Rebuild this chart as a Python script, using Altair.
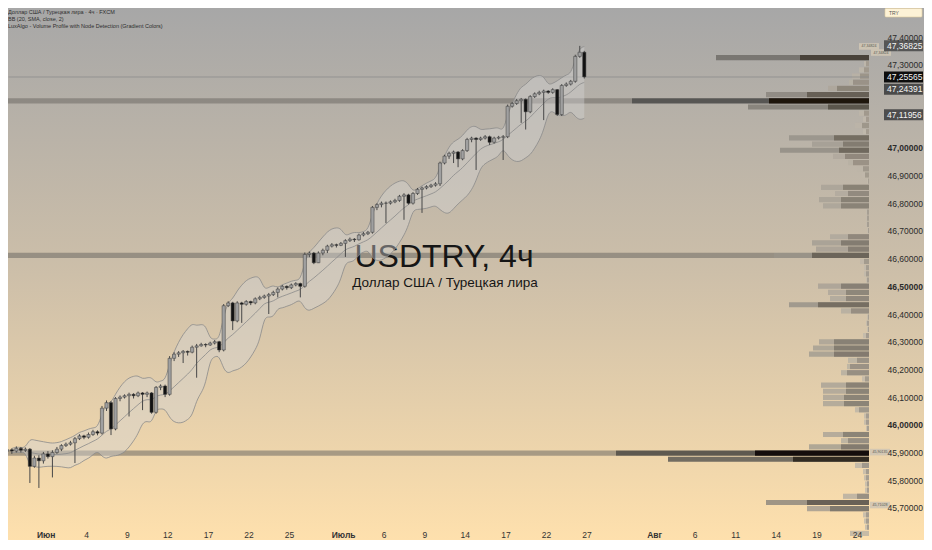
"""USDTRY 4h chart with Bollinger bands and a volume profile, TradingView style."""
import json
import numpy as np
import pandas as pd
import altair as alt

FONT = "Liberation Sans"
W, H = 861, 514
RIGHT = 55  # room for the price scale

# candles: three per trading day, from 27 May (day 0) to 24 Jul (day 42)
first_open = 45.905
closes = [
    45.910, 45.905, 45.915,  45.908, 45.912, 45.850,  45.880, 45.870, 45.895,
    45.885, 45.900, 45.912,  45.925, 45.930, 45.935,  45.950, 45.960, 45.955,
    45.965, 45.975, 45.970,  46.060, 46.080, 45.985,  46.095, 46.100, 46.105,
    46.110, 46.105, 46.115,  46.110, 46.115, 46.045,  46.135, 46.140, 46.110,
    46.240, 46.255, 46.260,  46.265, 46.262, 46.280,  46.285, 46.290, 46.288,
    46.295, 46.300, 46.270,  46.430, 46.440, 46.375,  46.440, 46.435, 46.445,
    46.440, 46.455, 46.460,  46.465, 46.470, 46.478,  46.490, 46.500, 46.495,
    46.505, 46.510, 46.500,  46.615, 46.620, 46.585,  46.620, 46.630, 46.645,
    46.650, 46.648, 46.655,  46.665, 46.670, 46.668,  46.685, 46.690, 46.695,
    46.785, 46.795, 46.800,  46.800, 46.805, 46.810,  46.825, 46.830, 46.800,
    46.835, 46.850, 46.855,  46.860, 46.865, 46.870,  46.945, 46.970, 46.980,
    46.985, 46.960, 46.990,  47.030, 47.035, 47.030,  47.035, 47.040, 47.020,
    47.035, 47.038, 47.040,  47.150, 47.160, 47.170,  47.175, 47.130, 47.185,
    47.195, 47.200, 47.205,  47.200, 47.210, 47.120,  47.225, 47.230, 47.240,
    47.330, 47.345, 47.256,
]
highs = [
    45.918, 45.915, 45.922,  45.920, 45.918, 45.916,  45.888, 45.890, 45.902,
    45.905, 45.908, 45.920,  45.930, 45.936, 45.942,  45.956, 45.966, 45.964,
    45.972, 45.982, 45.980,  46.068, 46.088, 46.086,  46.100, 46.106, 46.110,
    46.116, 46.114, 46.120,  46.118, 46.120, 46.118,  46.140, 46.146, 46.145,
    46.248, 46.262, 46.266,  46.270, 46.268, 46.286,  46.292, 46.296, 46.294,
    46.300, 46.306, 46.303,  46.436, 46.446, 46.444,  46.446, 46.444, 46.450,
    46.448, 46.460, 46.466,  46.470, 46.476, 46.484,  46.496, 46.505, 46.503,
    46.510, 46.515, 46.513,  46.622, 46.626, 46.624,  46.626, 46.636, 46.650,
    46.656, 46.654, 46.660,  46.670, 46.676, 46.674,  46.690, 46.696, 46.700,
    46.790, 46.800, 46.806,  46.806, 46.810, 46.816,  46.830, 46.836, 46.834,
    46.840, 46.855, 46.860,  46.865, 46.870, 46.876,  46.950, 46.975, 46.986,
    46.990, 46.988, 46.995,  47.036, 47.040, 47.038,  47.040, 47.046, 47.044,
    47.040, 47.043, 47.046,  47.156, 47.165, 47.176,  47.180, 47.178, 47.190,
    47.200, 47.206, 47.210,  47.208, 47.215, 47.212,  47.230, 47.236, 47.245,
    47.336, 47.368, 47.350,
]
lows = [
    45.898, 45.895, 45.900,  45.900, 45.902, 45.790,  45.845, 45.772, 45.860,
    45.878, 45.810, 45.895,  45.905, 45.920, 45.925,  45.862, 45.945, 45.948,
    45.950, 45.960, 45.962,  45.965, 46.050, 45.963,  45.980, 46.085, 46.095,
    46.030, 46.095, 46.100,  46.053, 46.100, 46.040,  46.040, 46.125, 46.100,
    46.105, 46.230, 46.245,  46.223, 46.250, 46.258,  46.170, 46.282, 46.280,
    46.285, 46.290, 46.262,  46.265, 46.425, 46.342,  46.370, 46.368, 46.430,
    46.432, 46.435, 46.450,  46.455, 46.400, 46.465,  46.460, 46.485, 46.488,
    46.490, 46.500, 46.460,  46.495, 46.605, 46.580,  46.584, 46.612, 46.620,
    46.640, 46.640, 46.645,  46.606, 46.660, 46.660,  46.665, 46.680, 46.685,
    46.690, 46.775, 46.785,  46.728, 46.795, 46.800,  46.805, 46.740, 46.795,
    46.795, 46.830, 46.765,  46.850, 46.855, 46.860,  46.862, 46.940, 46.960,
    46.945, 46.930, 46.955,  46.985, 47.020, 46.920,  47.025, 47.030, 47.010,
    47.015, 47.030, 46.956,  47.035, 47.145, 47.155,  47.090, 47.066, 47.125,
    47.180, 47.190, 47.100,  47.195, 47.195, 47.115,  47.115, 47.220, 47.225,
    47.235, 47.325, 47.250,
]

# date axis, in trading days from 27 May
tick_days = [3, 6, 9, 12, 15, 18, 21, 25, 28, 31, 34, 37, 40, 43, 48, 51, 54, 57, 60, 63]
tick_labels = ["Июн", "4", "9", "12", "17", "22", "25", "Июль", "6", "9", "14",
               "17", "22", "27", "Авг", "6", "11", "14", "19", "24"]
month_days = [3, 25, 48]

price_ticks = [45.7, 45.8, 45.9, 46.0, 46.1, 46.2, 46.3, 46.4, 46.5,
               46.6, 46.7, 46.8, 46.9, 47.0, 47.1, 47.2, 47.3, 47.4]
bold_ticks = [46.0, 46.5, 47.0]
covered_ticks = [47.1, 47.2]  # hidden under the price tags

# volume profile rows, bottom (k=-13) to top (k=64)
prof_base = 45.898
prof_step = 0.02231
prof_total = [19, 4, 5, 6, 62, 103, 26, 4, 4, 5, 6, 14, 201,
              253, 60, 28, 46, 3, 5, 5, 14, 46, 46, 46, 48, 7,
              28, 22, 21, 60, 56, 50, 6, 2, 3, 2, 28, 80, 39,
              41, 51, 3, 5, 5, 9, 95, 53, 57, 39, 2, 3, 3,
              3, 46, 50, 34, 48, 2, 7, 12, 21, 36, 89, 57, 80,
              6, 14, 6, 10, 121, 237, 103, 41, 20, 17, 10, 5, 153]
prof_dark = [0, 2, 3, 3, 39, 62, 12, 2, 2, 3, 3, 7, 76,
             114, 28, 21, 26, 2, 3, 3, 10, 25, 25, 23, 23, 4,
             22, 19, 12, 35, 35, 35, 3, 1, 2, 1, 18, 51, 23,
             23, 28, 2, 3, 3, 5, 57, 21, 28, 21, 1, 2, 2,
             2, 28, 28, 21, 26, 1, 4, 6, 16, 24, 30, 26, 35,
             3, 7, 3, 5, 41, 100, 62, 32, 16, 9, 5, 3, 69]
node_rows = [0, 32, 57]

last_price = 47.25565
tag_prices = [47.36825, 47.25565, 47.24391, 47.11956]
small_tags = [(47.366, "47,34824", 861), (47.344, "47,34824", 873),
              (45.90135, "45,90135", 872), (45.71028, "45,71028", 872)]

# ---- tables ----
n = len(closes)
candles = pd.DataFrame({
    "t": np.arange(n) / 3 + 1 / 6,
    "open": [first_open] + closes[:-1],
    "close": closes,
    "high": highs,
    "low": lows,
})
k = np.arange(-13, -13 + len(prof_total))
prof = pd.DataFrame({"k": k, "total": prof_total, "dark": prof_dark})
prof["price"] = prof_base + prof["k"] * prof_step
prof["lo"] = prof["price"] - prof_step * 0.42
prof["hi"] = prof["price"] + prof_step * 0.42
one = pd.DataFrame({"a": [0]})

xs = alt.Scale(domain=[0.585, 63.52], nice=False, zero=False)
ys = alt.Scale(domain=[45.6491, 47.5047], nice=False, zero=False)
px = alt.Scale(domain=[0, W], reverse=True, nice=False, zero=False)

x_axis = alt.Axis(
    values=tick_days,
    labelExpr=f"{json.dumps(tick_labels, ensure_ascii=False)}[indexof({json.dumps(tick_days)}, datum.value)]",
    labelFontWeight={"condition": {"test": " || ".join(f"datum.value == {d}" for d in month_days),
                                   "value": "bold"}, "value": "normal"},
    grid=False, ticks=False, domain=False, labelFlush=False, labelOverlap=False,
    labelFontSize=8.5, labelColor="#333333", labelFont=FONT, labelPadding=8, title=None, zindex=1,
)
y_axis = alt.Axis(
    orient="right", values=[v for v in price_ticks if v not in covered_ticks],
    labelExpr="replace(format(datum.value, '.5f'), '.', ',')",
    labelFontWeight={"condition": {"test": " || ".join(f"datum.value == {v}" for v in bold_ticks),
                                   "value": "bold"}, "value": "normal"},
    grid=False, ticks=False, domain=False, labelFlush=False, labelOverlap=False,
    labelFontSize=8.5, labelColor="#2b2b2b", labelFont=FONT, labelPadding=18, title=None, zindex=1,
)


def X(field):
    return alt.X(field, scale=xs, axis=x_axis)


def Y(field):
    # every layer carries the same axis so the shared scale keeps it
    return alt.Y(field, scale=ys, axis=y_axis)


# ---- background and texts ----
background = alt.Chart(one).mark_rect(
    fill=alt.Gradient(gradient="linear", x1=0, x2=0, y1=0, y2=1, stops=[
        alt.GradientStop(color="#a7a7a7", offset=0),
        alt.GradientStop(color="#cdbfa9", offset=0.5),
        alt.GradientStop(color="#fee0ad", offset=1),
    ])
).encode(x=alt.value(0), x2=alt.value(W + RIGHT), y=alt.value(0), y2=alt.value(H + 18))

header = alt.Chart(one).mark_text(
    text=["Доллар США / Турецкая лира · 4ч · FXCM", "BB (20, SMA, close, 2)",
          "LuxAlgo - Volume Profile with Node Detection (Gradient Colors)"],
    align="left", baseline="alphabetic", fontSize=5.5, lineHeight=7, font=FONT, color="#2e2e2e",
).encode(x=alt.value(0), y=alt.value(5.5))

watermark = alt.Chart(one).mark_text(
    text="USDTRY, 4ч", fontSize=32, font=FONT, color="#161616", align="center", baseline="alphabetic",
).encode(x=alt.value(436), y=alt.value(258.5))
subtitle = alt.Chart(one).mark_text(
    text="Доллар США / Турецкая лира", fontSize=13.5, font=FONT, color="#161616",
    align="center", baseline="alphabetic",
).encode(x=alt.value(437), y=alt.value(279))

try_box = alt.Chart(one).mark_rect(fill="#fdf2d6", stroke="#e2cf9e", strokeWidth=0.6, cornerRadius=1).encode(
    x=alt.value(W + 16), x2=alt.value(W + 53), y=alt.value(0.5), y2=alt.value(9))
try_text = alt.Chart(one).mark_text(text="TRY", fontSize=5, font=FONT, color="#555555", align="left").encode(
    x=alt.value(W + 20), y=alt.value(5))

price_line = alt.Chart(pd.DataFrame({"p": [last_price]})).mark_rule(color="#8c8c8c", strokeWidth=0.8).encode(
    y=Y("p:Q"), x=alt.value(0.5), x2=alt.value(W))

# ---- candles and bollinger bands ----
base = alt.Chart(candles)
bb = base.transform_window(
    ma="mean(close)", sd="stdev(close)", frame=[-9, 0], sort=[alt.SortField("t")]
).transform_filter("isFinite(datum.sd)").transform_calculate(
    up="datum.ma + 2 * datum.sd", dn="datum.ma - 2 * datum.sd")

bb_area = bb.mark_area(interpolate="basis", fill="#d4d4d4", opacity=0.42, clip=True).encode(
    x=X("t:Q"), y=Y("dn:Q"), y2="up:Q")
bb_lines = [
    bb.mark_line(interpolate="basis", color="#8a8a8a", strokeWidth=0.8, clip=True).encode(
        x=X("t:Q"), y=Y(f"{f}:Q"))
    for f in ["up", "dn", "ma"]
]

wicks = base.mark_rule(color="#474747", strokeWidth=1, clip=True).encode(
    x=X("t:Q"), y=Y("low:Q"), y2="high:Q")
bodies = base.mark_bar(size=3.2, stroke="#3c3c3c", strokeWidth=0.5, clip=True).encode(
    x=X("t:Q"),
    y=Y("open:Q"),
    y2="close:Q",
    color=alt.when(alt.datum.close >= alt.datum.open)
    .then(alt.value("#a0a0a0")).otherwise(alt.value("#111111")),
)

BOX = "M-1,-0.28L1,-0.28L1,0.28L-1,0.28Z"


def price_tag(price, bg, dy=0):
    """Dark label box on the price scale."""
    d = pd.DataFrame({"p": [price], "txt": [f"{price:.5f}".replace(".", ",")]})
    box = alt.Chart(d).mark_point(shape=BOX, size=1521, filled=True, color=bg, opacity=1, yOffset=dy).encode(
        x=alt.value(W + 34.5), y=Y("p:Q"))
    txt = alt.Chart(d).mark_text(align="left", baseline="middle", fontSize=8.5, font=FONT,
                                 color="#f4f4f4", yOffset=dy).encode(
        x=alt.value(W + 18), y=Y("p:Q"), text="txt:N")
    return box + txt


def small_tag(price, text, xpos):
    """Tiny value label next to the volume profile."""
    d = pd.DataFrame({"p": [price], "txt": [text]})
    box = alt.Chart(d).mark_point(shape="M-1,-0.33L1,-0.33L1,0.33L-1,0.33Z", size=400, filled=True,
                                  color="#cfc5b4", opacity=0.9).encode(
        x=alt.value(xpos), y=Y("p:Q"))
    txt = alt.Chart(d).mark_text(align="center", baseline="middle", fontSize=3.6, font=FONT,
                                 color="#555555").encode(
        x=alt.value(xpos), y=Y("p:Q"), text="txt:N")
    return box + txt


tag_colors = ["#565656", "#0d0d0d", "#4a4a4a", "#4d4d4d"]
tag_shift = [0, 0, 9, 0]
tags = [price_tag(p, c, s) for p, c, s in zip(tag_prices, tag_colors, tag_shift)]
smalls = [small_tag(p, t, xp) for p, t, xp in small_tags]

main = alt.layer(header, watermark, subtitle, price_line, bb_area, *bb_lines, wicks, bodies,
                 try_box, try_text, *tags)

# ---- volume profile ----
pbase = alt.Chart(prof)
node_lines = pbase.transform_filter(alt.FieldOneOfPredicate(field="k", oneOf=node_rows)).mark_rect(
    color="#6e6a64", opacity=0.55).encode(
    x=alt.X("total:Q", scale=px, axis=None), x2=alt.value(0),
    y=Y("lo:Q"), y2="hi:Q")
total_bars = pbase.mark_rect(opacity=0.8).encode(
    x=alt.X("total:Q", scale=px, axis=None), x2=alt.value(W),
    y=Y("lo:Q"), y2="hi:Q",
    color=alt.Color("total:Q", scale=alt.Scale(domain=[0, 250], range=["#c4bcae", "#3a3a3a"]), legend=None))
dark_bars = pbase.mark_rect(opacity=0.85).encode(
    x=alt.X("dark:Q", scale=px, axis=None), x2=alt.value(W),
    y=Y("lo:Q"), y2="hi:Q",
    color=alt.Color("total:Q", scale=alt.Scale(domain=[0, 250], range=["#a39b8f", "#000000"]), legend=None))
profile = alt.layer(node_lines, total_bars, dark_bars, *smalls).resolve_scale(color="independent")

chart = alt.layer(background, profile, main).resolve_scale(
    x="independent", color="independent"
).properties(width=W, height=H, padding=0).configure_view(stroke=None)

chart.save("out.html", embed_options={"renderer": "svg", "actions": False})
